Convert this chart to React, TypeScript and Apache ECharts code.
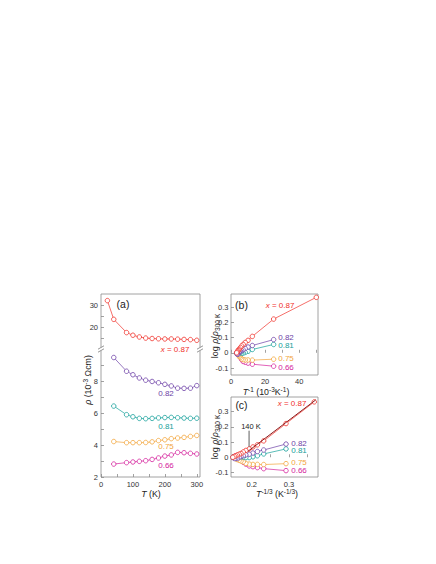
import React, { useEffect, useRef } from 'react';
import * as echarts from 'echarts';

// ---------- data ----------
const T_RED = [20, 40, 80, 100, 120, 140, 160, 180, 200, 220, 240, 260, 280, 300];
const T_OTHER = [40, 80, 100, 120, 140, 160, 180, 200, 220, 240, 260, 280, 300];

const RHO_087 = [32, 23.5, 17.5, 16.3, 15.5, 15.0, 14.8, 14.7, 14.6, 14.6, 14.5, 14.4, 14.3, 14.0];
const RHO_082 = [9.48, 8.62, 8.4, 8.2, 8.06, 7.98, 7.9, 7.8, 7.7, 7.56, 7.55, 7.56, 7.72];
const RHO_081 = [6.44, 5.9, 5.77, 5.67, 5.65, 5.67, 5.7, 5.72, 5.73, 5.71, 5.69, 5.67, 5.68];
const RHO_075 = [4.22, 4.15, 4.15, 4.15, 4.16, 4.2, 4.28, 4.33, 4.4, 4.44, 4.48, 4.54, 4.6];
const RHO_066 = [2.81, 2.9, 2.94, 2.98, 3.02, 3.1, 3.19, 3.31, 3.38, 3.54, 3.52, 3.48, 3.44];

const INV_T_RED = [50, 25, 12.5, 10, 8.33, 7.14, 6.25, 5.56, 5.0, 4.55, 4.17, 3.85, 3.57, 3.33];
const INV_T = [25, 12.5, 10, 8.33, 7.14, 6.25, 5.56, 5.0, 4.55, 4.17, 3.85, 3.57, 3.33];
const T13_RED = [0.368, 0.292, 0.232, 0.215, 0.203, 0.193, 0.184, 0.177, 0.171, 0.166, 0.161, 0.157, 0.153, 0.149];
const T13 = [0.292, 0.232, 0.215, 0.203, 0.193, 0.184, 0.177, 0.171, 0.166, 0.161, 0.157, 0.153, 0.149];

const LOG_087 = [0.365, 0.222, 0.108, 0.082, 0.068, 0.055, 0.045, 0.035, 0.025, 0.02, 0.015, 0.01, 0.005, 0];
const LOG_082 = [0.087, 0.048, 0.038, 0.028, 0.02, 0.016, 0.011, 0.006, 0, -0.008, -0.008, -0.008, 0];
const LOG_081 = [0.055, 0.022, 0.01, 0.003, -0.002, -0.002, 0.002, 0.003, 0.005, 0.002, 0, -0.002, 0];
const LOG_075 = [-0.042, -0.048, -0.047, -0.047, -0.045, -0.04, -0.03, -0.025, -0.02, -0.015, -0.01, -0.005, 0];
const LOG_066 = [-0.088, -0.075, -0.068, -0.062, -0.057, -0.045, -0.033, -0.017, -0.008, 0.012, 0.01, 0.005, 0];

const FIT_X = [0.19, 0.372];
const FIT_Y = [0.04, 0.378];
const MARK_140K_X = [0.1926, 0.1926];
const MARK_140K_Y = [0.07, 0.175];

const SERIES_LABELS = ['0.87', '0.82', '0.81', '0.75', '0.66'];

// ticks / labels
const A_X_TICKS = [0, 50, 100, 150, 200, 250, 300];
const A_X_LABELS = [0, 100, 200, 300];
const A_YU_TICKS = [15, 20, 25, 30];
const A_YU_LABELS = [20, 30];
const A_YL_TICKS = [2, 3, 4, 5, 6, 7, 8, 9];
const A_YL_LABELS = [2, 4, 6, 8];
const B_X_TICKS = [0, 10, 20, 30, 40, 50];
const B_X_LABELS = [0, 20, 40];
const LOG_TICKS = [-0.1, 0, 0.1, 0.2, 0.3];
const C_X_TICKS = [0.15, 0.2, 0.25, 0.3, 0.35];
const C_X_LABELS = [0.2, 0.3];

// ---------- style ----------
const FONT = 'Liberation Sans, Arial, Helvetica, sans-serif';
const C_RED = '#f0302a';
const C_PURPLE = '#6c3fa6';
const C_TEAL = '#14a09a';
const C_ORANGE = '#f2a43a';
const C_PINK = '#d4209c';
const C_FIT = '#8b1c1c';
const FRAME = '#8a8a8a';
const TXT = '#333';

function series(xs: number[], ys: number[], color: string, xi: number, yi: number) {
  return {
    type: 'line',
    xAxisIndex: xi,
    yAxisIndex: yi,
    data: xs.map((x, i) => [x, ys[i]]),
    symbol: 'circle',
    symbolSize: 4.5,
    showSymbol: true,
    lineStyle: { color, width: 0.7 },
    itemStyle: { color: '#fff', borderColor: color, borderWidth: 0.8 },
    emphasis: { disabled: true },
    silent: true,
    clip: false,
    z: 3,
  };
}

const fmtLog = (v: number) => (Math.abs(v) < 1e-9 ? '0' : String(Math.round(v * 10) / 10));
const fmtDec = (v: number) => String(Math.round(v * 100) / 100);

function axis(grid: number, min: number, max: number, ticks: number[], labels: number[], fmt?: (v: number) => string, showLabel = true, margin = 3) {
  return {
    type: 'value',
    gridIndex: grid,
    min,
    max,
    axisLine: { show: false },
    splitLine: { show: false },
    axisTick: { show: true, inside: true, length: 3, customValues: ticks, lineStyle: { color: FRAME, width: 0.8 } },
    axisLabel: {
      show: showLabel,
      customValues: labels,
      fontSize: 7.5,
      color: TXT,
      margin,
      fontFamily: FONT,
      formatter: fmt ? (v: number) => fmt(v) : (v: number) => String(v),
    },
  };
}

function txt(x: number, y: number, text: string, color: string, size = 8, extra: any = {}) {
  const small = size * 0.74;
  return {
    type: 'text',
    x,
    y,
    silent: true,
    z: 20,
    ...extra,
    style: {
      text,
      fill: color,
      fontSize: size,
      fontFamily: FONT,
      align: 'center',
      verticalAlign: 'middle',
      textAlign: 'center',
      textVerticalAlign: 'middle',
      rich: {
        i: { fontStyle: 'italic', fontSize: size, fontFamily: FONT, fill: color, color, verticalAlign: 'middle', lineHeight: size + 3 },
        n: { fontSize: size, fontFamily: FONT, fill: color, color, verticalAlign: 'middle', lineHeight: size + 3 },
        s: { fontSize: small, fontFamily: FONT, fill: color, color, verticalAlign: 'top', lineHeight: small },
        b: { fontSize: small, fontFamily: FONT, fill: color, color, verticalAlign: 'bottom', lineHeight: small },
      },
      ...(extra.style || {}),
    },
  };
}

function breakMarks(x: number, y: number) {
  return [
    { type: 'rect', silent: true, z: 15, shape: { x: x - 2.5, y: y - 1.6, width: 5, height: 3.2 }, style: { fill: '#fff', stroke: 'none' } },
    { type: 'line', silent: true, z: 16, shape: { x1: x - 3, y1: y + 0.2, x2: x + 3, y2: y - 3.2 }, style: { stroke: FRAME, lineWidth: 0.9 } },
    { type: 'line', silent: true, z: 16, shape: { x1: x - 3, y1: y + 3.2, x2: x + 3, y2: y - 0.2 }, style: { stroke: FRAME, lineWidth: 0.9 } },
  ];
}

export default function App() {
  const ref = useRef<HTMLDivElement>(null);
  useEffect(() => {
    if (!ref.current) return;
    const chart = echarts.init(ref.current, undefined, { renderer: 'svg' });
    const gridB = { show: true, borderColor: FRAME, borderWidth: 0.8, backgroundColor: 'transparent' };
    const option: any = {
      animation: false,
      backgroundColor: '#fff',
      grid: [
        { left: 101, top: 294, width: 99, height: 54 },
        { left: 101, top: 350, width: 99, height: 127 },
        { left: 231, top: 294, width: 87, height: 81, ...gridB },
        { left: 231, top: 397, width: 87, height: 80, ...gridB },
      ],
      xAxis: [
        { ...axis(0, 0, 310, [], [], undefined, false), axisTick: { show: false } },
        axis(1, 0, 310, A_X_TICKS, A_X_LABELS),
        axis(2, 0, 51, B_X_TICKS, B_X_LABELS, undefined, true, 2),
        axis(3, 0.144, 0.378, C_X_TICKS, C_X_LABELS, fmtDec),
      ],
      yAxis: [
        axis(0, 10.5, 35, A_YU_TICKS, A_YU_LABELS),
        axis(1, 2, 9.95, A_YL_TICKS, A_YL_LABELS),
        axis(2, -0.146, 0.387, LOG_TICKS, LOG_TICKS, fmtLog, true, 2.5),
        axis(3, -0.13, 0.397, LOG_TICKS, LOG_TICKS, fmtLog, true, 2.5),
      ],
      series: [
        series(T_RED, RHO_087, C_RED, 0, 0),
        series(T_OTHER, RHO_082, C_PURPLE, 1, 1),
        series(T_OTHER, RHO_081, C_TEAL, 1, 1),
        series(T_OTHER, RHO_075, C_ORANGE, 1, 1),
        series(T_OTHER, RHO_066, C_PINK, 1, 1),

        series(INV_T, LOG_066, C_PINK, 2, 2),
        series(INV_T, LOG_075, C_ORANGE, 2, 2),
        series(INV_T, LOG_081, C_TEAL, 2, 2),
        series(INV_T, LOG_082, C_PURPLE, 2, 2),
        series(INV_T_RED, LOG_087, C_RED, 2, 2),

        series(T13, LOG_066, C_PINK, 3, 3),
        series(T13, LOG_075, C_ORANGE, 3, 3),
        series(T13, LOG_081, C_TEAL, 3, 3),
        series(T13, LOG_082, C_PURPLE, 3, 3),
        series(T13_RED, LOG_087, C_RED, 3, 3),
        {
          type: 'line', xAxisIndex: 3, yAxisIndex: 3, silent: true, symbol: 'none', z: 5,
          data: FIT_X.map((x, i) => [x, FIT_Y[i]]),
          lineStyle: { color: C_FIT, width: 1.0 },
        },
        {
          type: 'line', xAxisIndex: 3, yAxisIndex: 3, silent: true, symbol: 'none', z: 5,
          data: MARK_140K_X.map((x, i) => [x, MARK_140K_Y[i]]),
          lineStyle: { color: '#333', width: 0.8 },
        },
      ],
      graphic: [
        { type: 'rect', silent: true, z: 10, shape: { x: 101, y: 294, width: 99, height: 183 }, style: { fill: 'none', stroke: FRAME, lineWidth: 0.8 } },
        ...breakMarks(101, 349),
        ...breakMarks(200, 349),
        // panel labels
        txt(123, 304, '(a)', '#222', 10.5),
        txt(241.5, 305, '(b)', '#222', 10.5),
        txt(241.5, 405, '(c)', '#222', 10.5),
        // (a) series labels
        txt(175, 349, '{i|x} = ' + SERIES_LABELS[0], C_RED, 8),
        txt(166, 393, SERIES_LABELS[1], C_PURPLE, 8),
        txt(166, 426, SERIES_LABELS[2], C_TEAL, 8),
        txt(166, 446, SERIES_LABELS[3], C_ORANGE, 8),
        txt(166, 465, SERIES_LABELS[4], C_PINK, 8),
        // (b) series labels
        txt(280, 305, '{i|x} = ' + SERIES_LABELS[0], C_RED, 8),
        txt(286, 337, SERIES_LABELS[1], C_PURPLE, 8),
        txt(286, 345.5, SERIES_LABELS[2], C_TEAL, 8),
        txt(286, 358, SERIES_LABELS[3], C_ORANGE, 8),
        txt(286, 367.5, SERIES_LABELS[4], C_PINK, 8),
        // (c) series labels
        txt(292, 403, '{i|x} = ' + SERIES_LABELS[0], C_RED, 8),
        txt(299, 443, SERIES_LABELS[1], C_PURPLE, 8),
        txt(299, 450.5, SERIES_LABELS[2], C_TEAL, 8),
        txt(299, 462, SERIES_LABELS[3], C_ORANGE, 8),
        txt(299, 470.5, SERIES_LABELS[4], C_PINK, 8),
        txt(251, 426.5, '140 K', '#222', 7.5),
        // axis titles
        txt(88, 380, '{i|ρ} (10{s|-3} Ωcm)', '#222', 8.8, { rotation: Math.PI / 2 }),
        txt(151, 494, '{i|T} (K)', '#222', 8.8),
        txt(215, 336, 'log {i|ρ}/{i|ρ}{b|300 K}', '#222', 9, { rotation: Math.PI / 2 }),
        txt(266, 391.5, '{i|T}{s|-1} (10{s|-3}K{s|-1})', '#222', 8.8),
        txt(215, 437, 'log {i|ρ}/{i|ρ}{b|300 K}', '#222', 9, { rotation: Math.PI / 2 }),
        txt(277, 494, '{i|T}{s|-1/3} (K{s|-1/3})', '#222', 8.8),
      ],
    };
    chart.setOption(option);
    return () => chart.dispose();
  }, []);
  return <div ref={ref} style={{ position: 'fixed', left: 0, top: 0, width: 436, height: 564 }} />;
}
